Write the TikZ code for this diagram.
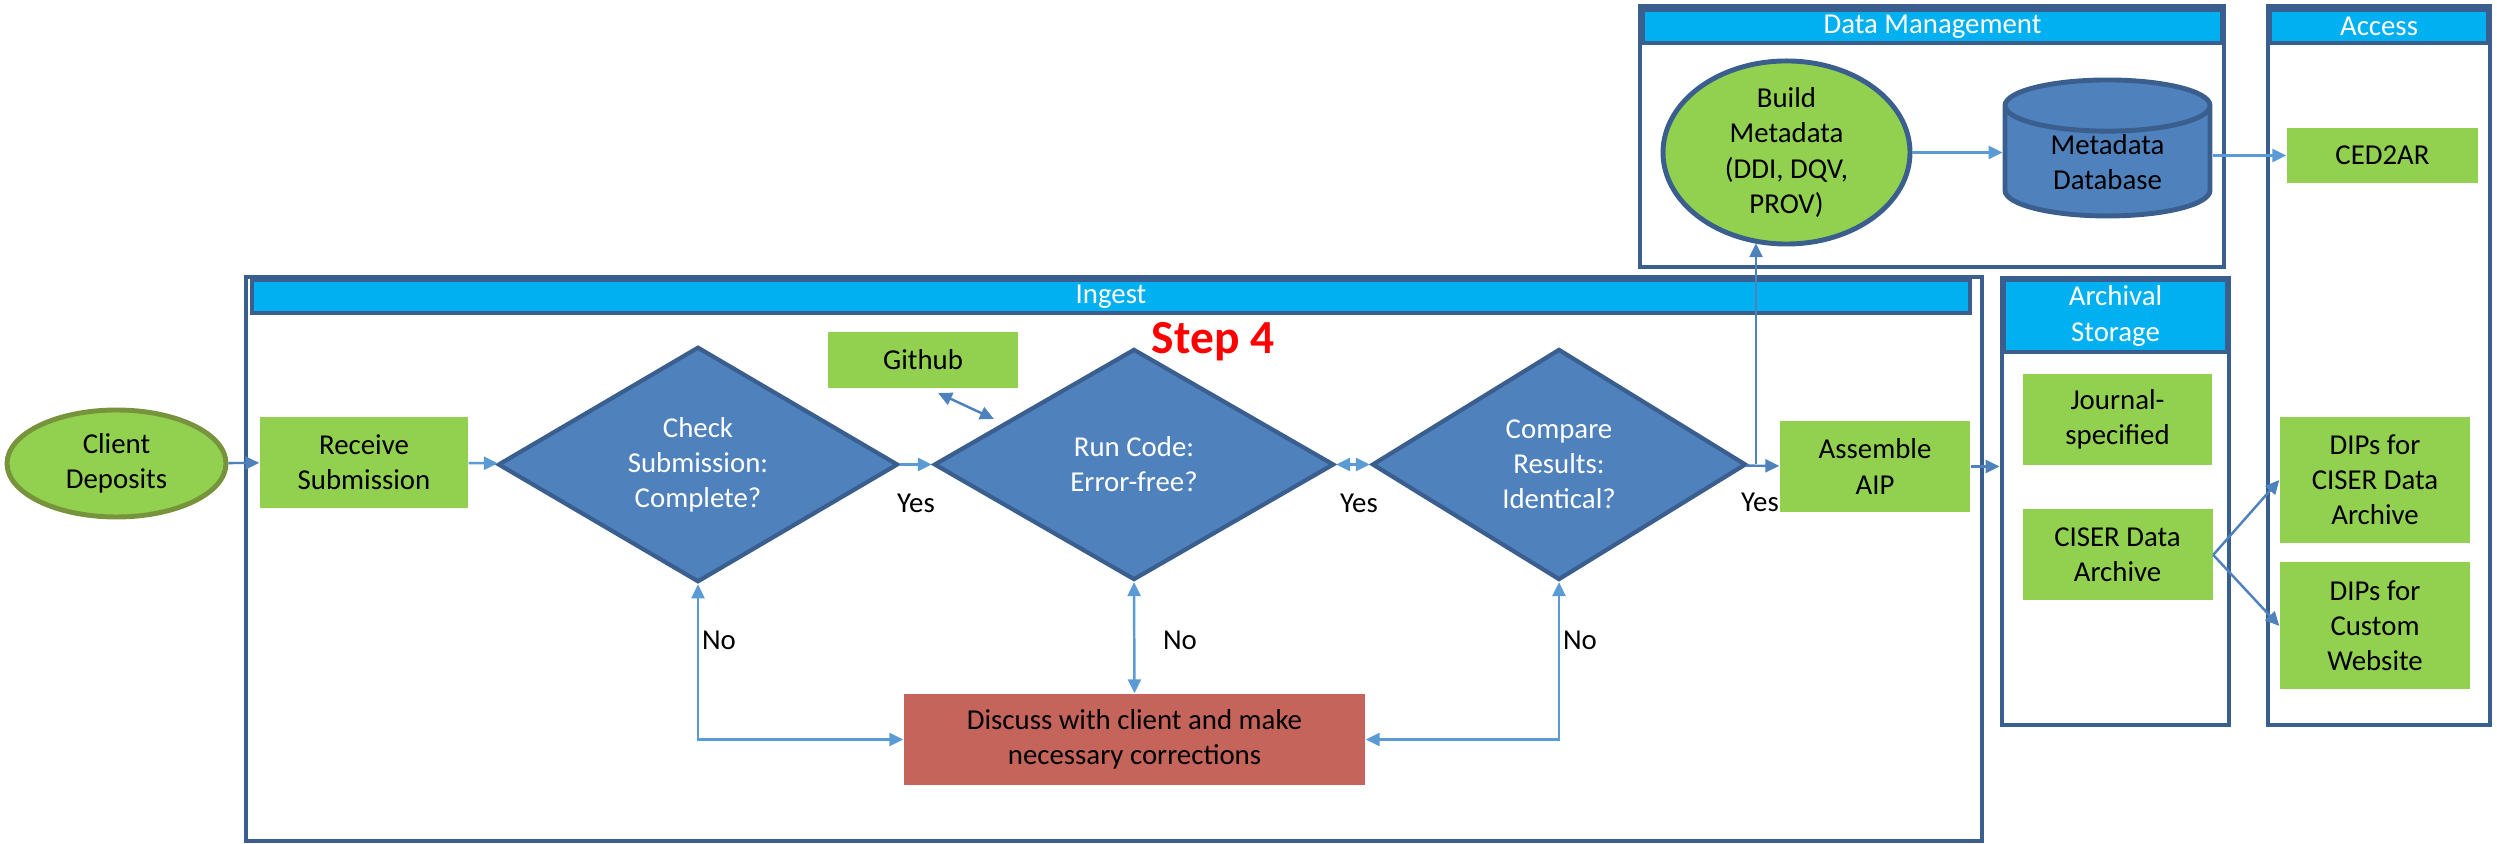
\documentclass[tikz,border=0pt]{standalone}
\usepackage{fontspec}
\setmainfont{Carlito}
\usepackage{tikz}
\usetikzlibrary{arrows.meta,shapes.geometric}
\usetikzlibrary{positioning}

\definecolor{lanecol}{HTML}{3A5F8F}
\definecolor{headcol}{HTML}{00B0F0}
\definecolor{greencol}{HTML}{92D050}
\definecolor{rimcol}{HTML}{77933C}
\definecolor{bluecol}{HTML}{4F81BD}
\definecolor{linecol}{HTML}{5B9BD5}
\definecolor{redcol}{HTML}{C5645A}

\tikzset{
    lane/.style={
           rectangle,
           draw=lanecol, line width=1.4pt,
           inner sep=0pt,
           },
    lanehead/.style={
           rectangle,
           fill=headcol, draw=lanecol, line width=1.2pt,
           text=white, align=center,
           inner sep=0pt,
           },
    task/.style={
           rectangle,
           fill=greencol,
           minimum width=1.9cm, minimum height=0.91cm,
           align=center, inner sep=0pt,
           },
    decision/.style={
           diamond,
           fill=bluecol, draw=lanecol, line width=1.2pt,
           minimum width=4cm, minimum height=2.31cm,
           text=white, align=center, inner sep=0pt,
           },
    flow/.style={draw=linecol, line width=0.7pt},
    link/.style={draw=bluecol, line width=0.7pt},
    answer/.style={inner sep=0pt},
}

\begin{document}
\begin{tikzpicture}[>={Triangle[length=0.14cm,width=0.13cm]},
                    font=\fontsize{8.2}{10}\selectfont]

 \useasboundingbox (0,0) rectangle (24.97,-8.44);

 % swim lanes first, everything else lies on top
 \node[lane, minimum width=17.36cm, minimum height=5.64cm] (ingest) at (11.14,-5.59) {};
 \node[lanehead, minimum width=17.18cm, minimum height=0.33cm] (ingesthead) at (11.11,-2.965) {Ingest};

 \node[lane, minimum width=5.84cm, minimum height=2.61cm] (datamgmt) at (19.32,-1.365) {};
 \node[lanehead, minimum width=5.79cm, minimum height=0.33cm] (datamgmthead) at (19.325,-0.265) {Data Management};

 \node[lane, minimum width=2.27cm, minimum height=4.47cm] (archival) at (21.155,-5.015) {};
 \node[lanehead, minimum width=2.23cm, minimum height=0.72cm] (archivalhead) at (21.155,-3.16) {Archival\\Storage};

 \node[lane, minimum width=2.22cm, minimum height=7.19cm] (access) at (23.79,-3.655) {};
 \node[lanehead, minimum width=2.18cm, minimum height=0.33cm] (accesshead) at (23.79,-0.265) {Access};

 % Ingest
 \node[ellipse, fill=greencol, draw=rimcol, line width=1.4pt,
 minimum width=2.19cm, minimum height=1.07cm,
 align=center, inner sep=0pt] (client) at (1.165,-4.635) {Client\\Deposits};

 \node[task, minimum width=2.08cm] (receive) at (3.64,-4.625) {Receive\\Submission};

 \node[decision] (check) at (6.98,-4.645) {Check\\Submission:\\Complete?};
 \node[decision] (run) at (11.34,-4.645) {Run Code:\\Error-free?};
 \node[decision, minimum width=3.74cm] (compare) at (15.59,-4.645) {Compare\\Results:\\Identical?};

 \node[task, minimum height=0.56cm] (github) at (9.23,-3.60) {Github};
 \node[text=red, font=\bfseries\fontsize{13.5}{16}\selectfont] (stepfour) at (12.13,-3.42) {Step 4};

 \node[task] (assemble) at (18.75,-4.665) {Assemble\\AIP};

 \node[task, fill=redcol, minimum width=4.61cm] (discuss) at (11.345,-7.395)
 {Discuss with client and make\\necessary corrections};

 % answers on the branches
 \node[answer] (yes1) at (9.16,-5.03) {Yes};
 \node[answer] (yes2) at (13.59,-5.03) {Yes};
 \node[answer] (yes3) at (17.60,-5.02) {Yes};
 \node[answer] (no1) at (7.19,-6.40) {No};
 \node[answer] (no2) at (11.80,-6.40) {No};
 \node[answer] (no3) at (15.80,-6.40) {No};

 % Data Management
 \node[ellipse, fill=greencol, draw=lanecol, line width=1.4pt,
 minimum width=2.47cm, minimum height=1.81cm,
 align=center, inner sep=0pt] (build) at (17.865,-1.525)
 {Build\\Metadata\\(DDI, DQV,\\PROV)};

 \node[cylinder, shape border rotate=90, aspect=0.45,
 fill=bluecol, draw=lanecol, line width=1.4pt,
 minimum height=1.36cm, minimum width=2.05cm,
 align=center, inner sep=0pt] (metadb) at (21.075,-1.62) {Metadata\\Database};

 % Access and Archival Storage
 \node[task, minimum width=1.91cm, minimum height=0.55cm] (ced2ar) at (23.825,-1.555) {CED2AR};

 \node[task, minimum width=1.89cm] (journal) at (21.175,-4.195) {Journal-\\specified};
 \node[task, below=0.43cm of journal] (ciser) {CISER Data\\Archive};

 \node[task, minimum height=1.26cm] (dipsciser) at (23.75,-4.80) {DIPs for\\CISER Data\\Archive};
 \node[task, minimum height=1.27cm, below=0.18cm of dipsciser] (dipscustom) {DIPs for\\Custom\\Website};

 % connectors
 \coordinate (split) at (17.56,-4.645);
 \coordinate (gitA) at (9.38,-3.93);
 \coordinate (gitB) at (9.94,-4.19);

 \draw[link, ->] (client) -- (receive);
 \draw[flow, ->] (receive) -- (check);
 \draw[flow, ->] (check) -- (run);
 \draw[flow, <->] (run) -- (compare);
 \draw[link, ->] (compare) -- (assemble);
 \draw[link, ->] (split) -- (split |- build.250);
 \draw[link, <->] (gitA) -- (gitB);

 \draw[flow, <->] (check.south) |- (discuss.west);
 \draw[flow, <->] (run.south) -- (discuss.north);
 \draw[flow, <->] (compare.south) |- (discuss.east);

 \draw[flow, ->] (build.east) -- (build.east -| metadb.west);
 \draw[flow, ->] (metadb.east |- ced2ar.west) -- (ced2ar.west);
 \draw[link, ->] (assemble.east) -- (assemble.east -| archival.west);
 \draw[link, ->] (ciser.east) -- (dipsciser.west);
 \draw[link, ->] (ciser.east) -- (dipscustom.west);
\end{tikzpicture}
\end{document}
